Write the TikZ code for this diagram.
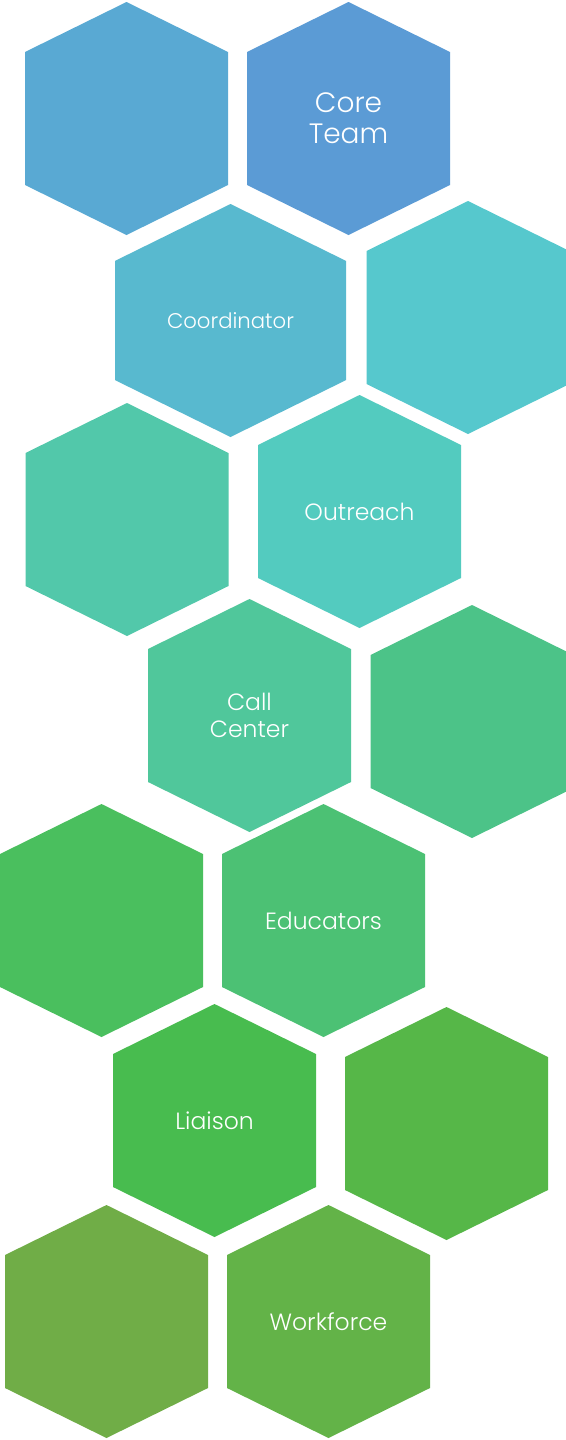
\documentclass[tikz,border=0pt]{standalone}
\usepackage{fontspec}
\setmainfont{Poppins Light}
\definecolor{hA}{HTML}{59A9D3}
\definecolor{hB}{HTML}{5B9BD5}
\definecolor{hC}{HTML}{58B9CF}
\definecolor{hD}{HTML}{56C8CD}
\definecolor{hE}{HTML}{52C8AA}
\definecolor{hF}{HTML}{53CBBF}
\definecolor{hG}{HTML}{50C79B}
\definecolor{hH}{HTML}{4CC388}
\definecolor{hI}{HTML}{4ABF5E}
\definecolor{hJ}{HTML}{4CC174}
\definecolor{hK}{HTML}{48BC4F}
\definecolor{hL}{HTML}{56B748}
\definecolor{hM}{HTML}{70AD47}
\definecolor{hN}{HTML}{63B348}
\newcommand{\hexcell}[8]{% name, cx, top, half width, colour, font size, line skip, text
  \pgfmathsetmacro\hexs{#4/2.03}
  \fill[#5] (#2,#3) -- ({#2+#4},{#3+\hexs}) -- ({#2+#4},{#3+233-\hexs})
    -- (#2,{#3+233}) -- ({#2-#4},{#3+233-\hexs}) -- ({#2-#4},{#3+\hexs}) -- cycle;
  \node[lbl,font=\fontsize{#6}{#7}\selectfont] (#1) at (#2,{#3+116.5}) {#8};
}
\tikzset{lbl/.style={text=white,align=center,inner sep=0pt}}
\begin{document}
\begin{tikzpicture}[x=1pt,y=-1pt]
\fill[white] (0,0) rectangle (565,1440);
\useasboundingbox (0,0) rectangle (565,1440);
\hexcell{h1}{126.5}{2}{101.5}{hA}{23.5}{27}{}
\hexcell{h2}{348.5}{2}{101.5}{hB}{28}{31}{Core\\Team}
\hexcell{h3}{230.5}{204}{115.5}{hC}{21.2}{24}{Coordinator}
\hexcell{h4}{468}{201}{101.5}{hD}{23.5}{27}{}
\hexcell{h5}{127}{403}{101.5}{hE}{23.5}{27}{}
\hexcell{h6}{359.5}{395}{101.5}{hF}{23.5}{27}{Outreach}
\hexcell{h7}{249.5}{599}{101.5}{hG}{23.5}{27}{Call\\Center}
\hexcell{h8}{472}{605}{101.5}{hH}{23.5}{27}{}
\hexcell{h9}{101.5}{804}{101.5}{hI}{23.5}{27}{}
\hexcell{h10}{323.5}{804}{101.5}{hJ}{23.5}{27}{Educators}
\hexcell{h11}{214.5}{1004}{101.5}{hK}{23.5}{27}{Liaison}
\hexcell{h12}{446.5}{1007}{101.5}{hL}{23.5}{27}{}
\hexcell{h13}{106.5}{1205}{101.5}{hM}{23.5}{27}{}
\hexcell{h14}{328.5}{1205}{101.5}{hN}{23.5}{27}{Workforce}
\end{tikzpicture}
\end{document}
